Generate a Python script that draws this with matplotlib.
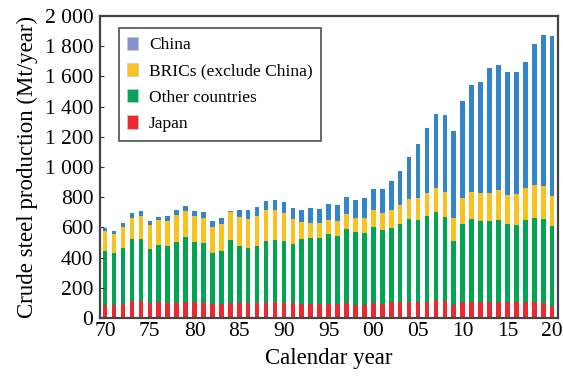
import numpy as np
import matplotlib
matplotlib.use("Agg")
from matplotlib import pyplot as plt
from matplotlib.patches import Patch

plt.rcParams['font.family'] = ['Liberation Serif', 'DejaVu Serif']

years = np.arange(1970, 2021)

# crude steel production by region, Mt/year
japan = [88, 84, 95, 115, 115, 97, 104, 97, 97, 106,
         106, 97, 95, 93, 101, 101, 97, 97, 101, 104,
         101, 101, 95, 95, 93, 95, 95, 99, 88, 90,
         99, 95, 104, 106, 108, 110, 110, 119, 115, 86,
         106, 106, 104, 106, 108, 104, 104, 104, 104, 97,
         82]
other = [355, 350, 368, 407, 412, 361, 383, 381, 410, 429,
         396, 399, 339, 350, 419, 379, 368, 379, 412, 416,
         408, 388, 429, 436, 438, 460, 451, 489, 480, 472,
         505, 489, 495, 514, 545, 537, 563, 581, 554, 424,
         519, 550, 541, 536, 543, 519, 514, 545, 560, 561,
         525]
brics = [132, 123, 138, 141, 149, 159, 163, 167, 174, 172,
         172, 169, 170, 180, 181, 188, 194, 198, 201, 196,
         189, 167, 110, 101, 97, 97, 99, 99, 93, 99,
         114, 114, 117, 126, 137, 148, 155, 161, 163, 150,
         170, 178, 183, 186, 194, 192, 201, 212, 217, 218,
         203]
china = [24, 22, 27, 31, 31, 24, 22, 33, 35, 38,
         38, 38, 41, 38, 8, 50, 55, 60, 64, 66,
         71, 75, 84, 94, 96, 101, 106, 112, 118, 132,
         134, 154, 189, 225, 276, 355, 428, 488, 512, 581,
         642, 707, 737, 828, 828, 812, 812, 832, 936, 998,
         1060]

tick_years = np.arange(1970, 2021, 5)
tick_labels = ['70', '75', '80', '85', '90', '95', '00', '05', '10', '15', '20']
y_ticks = np.arange(0, 2001, 200)
y_labels = ['0', '200', '400', '600', '800', '1 000', '1 200', '1 400', '1 600', '1 800', '2 000']

c_japan = '#ec2a2e'
c_other = '#00a553'
c_brics = '#f9c21e'
c_china = '#3185c8'

fig = plt.figure(figsize=(5.63, 3.81), dpi=100)
ax = fig.add_axes([0.178, 0.165, 0.813, 0.793])

japan = np.array(japan)
other = np.array(other)
brics = np.array(brics)
china = np.array(china)
w = 0.52
ax.bar(years, japan, w, color=c_japan)
ax.bar(years, other, w, bottom=japan, color=c_other)
ax.bar(years, brics, w, bottom=japan + other, color=c_brics)
ax.bar(years, china, w, bottom=japan + other + brics, color=c_china)

ax.set_xlim(1969.45, 2020.65)
ax.set_ylim(0, 2000)
ax.set_xticks(tick_years)
ax.set_xticklabels(tick_labels)
ax.set_yticks(y_ticks)
ax.set_yticklabels(y_labels)
ax.tick_params(axis='both', labelsize=15.5, direction='in', length=3, width=0.8, color='#333333')
ax.tick_params(axis='x', length=0, pad=3)
ax.tick_params(axis='y', pad=5)
for s in ax.spines.values():
    s.set_linewidth(1.6)
    s.set_color('#444444')

ax.set_xlabel('Calendar year', fontsize=16.5, labelpad=5)
ax.set_ylabel('Crude steel production (Mt/year)', fontsize=16.5, labelpad=5)

handles = [Patch(facecolor='#8393c9', edgecolor='#cccccc', linewidth=0.5),
           Patch(facecolor=c_brics, edgecolor='#cccccc', linewidth=0.5),
           Patch(facecolor=c_other, edgecolor='#cccccc', linewidth=0.5),
           Patch(facecolor=c_japan, edgecolor='#cccccc', linewidth=0.5)]
names = ['China', 'BRICs (exclude China)', 'Other countries', 'Japan']
leg = ax.legend(handles, names, loc='upper left', bbox_to_anchor=(0.04, 0.96),
                fontsize=12.5, frameon=True, fancybox=False, handlelength=0.65,
                handleheight=0.8, handletextpad=0.6, labelspacing=0.55,
                borderpad=0.5, borderaxespad=0)
leg.get_frame().set_edgecolor('#222222')
leg.get_frame().set_linewidth(1.2)

fig.savefig('out.png', dpi=100)
